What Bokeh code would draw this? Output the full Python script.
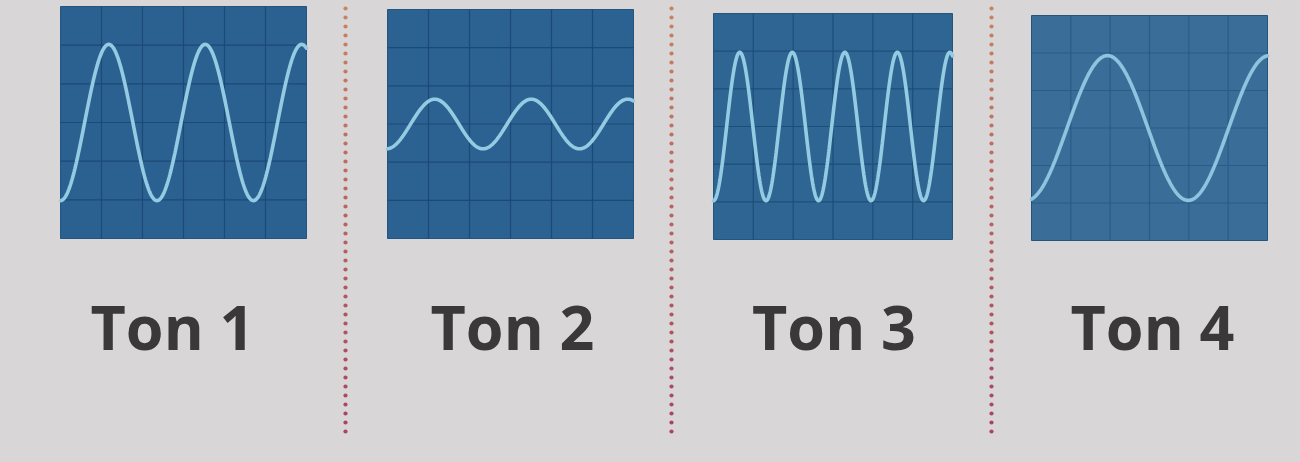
import numpy as np
from bokeh.plotting import figure
from bokeh.layouts import row
from bokeh.models import Range1d
from bokeh.core.properties import value
from bokeh.embed import file_html
from bokeh.resources import INLINE

# ---- data ----
tones = ["Ton 1", "Ton 2", "Ton 3", "Ton 4"]
cycles_per_screen = [2.55, 2.55, 4.55, 1.46]     # periods shown across the 6 divisions
start_phase = [0.0, 0.01, 0.0, 0.03]             # cycles past a trough at the left edge
amplitude_div = [2.02, 0.65, 1.97, 1.93]         # peak amplitude in grid divisions
x_divisions = [1, 2, 3, 4, 5]
y_divisions = [-2, -1, 0, 1, 2]

# ---- styles / layout (pixels) ----
BG = "#d8d6d6"
SCREEN = ["#2b6190", "#2c6291", "#2e6593", "#3a6e99"]
GRID = ["#1b4874", "#1b4874", "#1d4b76", "#285a86"]
WAVE = ["#95cbe2", "#95cbe2", "#95cbe2", "#90c4de"]
TEXT = "#3a3838"
H = 462

slot_w = [341, 318, 312, 305]
b_left = [60, 38, 38, 36]
b_right = [35, 34, 35, 33]
s_top = [6, 9, 13, 15]
s_bottom = [238, 238, 239, 240]
text_anchor = 326
text_shift = [-11, 2, 1, 3]


def bare(p):
    p.background_fill_color = BG
    p.border_fill_color = BG
    p.outline_line_color = None
    p.grid.visible = False
    p.axis.visible = False


figs = []
for i, name in enumerate(tones):
    fw = slot_w[i] - b_left[i] - b_right[i]
    dx = fw / 6.0
    dy = (s_bottom[i] - s_top[i]) / 6.0
    xr = Range1d(-b_left[i] / dx, 6 + b_right[i] / dx)
    yr = Range1d(-3 - (H - s_bottom[i]) / dy, 3 + s_top[i] / dy)
    p = figure(width=slot_w[i], height=H, output_backend="svg", toolbar_location=None,
               x_axis_location=None, y_axis_location=None, x_range=xr, y_range=yr,
               min_border=0, min_border_left=0, min_border_right=0,
               min_border_top=0, min_border_bottom=0)
    bare(p)
    # screen
    p.quad(left=[0], right=[6], bottom=[-3], top=[3], fill_color=SCREEN[i],
           line_color="#24557f", line_width=1)
    # graticule
    p.segment(x0=x_divisions, x1=x_divisions, y0=[-3] * 5, y1=[3] * 5,
              line_color=GRID[i], line_width=1.2, line_alpha=0.9)
    p.segment(x0=[0] * 5, x1=[6] * 5, y0=y_divisions, y1=y_divisions,
              line_color=GRID[i], line_width=1.2, line_alpha=0.9)
    # trace
    t = np.linspace(0, 6, 600)
    y = -amplitude_div[i] * np.cos(2 * np.pi * (cycles_per_screen[i] * t / 6 + start_phase[i]))
    p.line(t, y, line_color=WAVE[i], line_width=3.6, line_cap="round")
    # label
    ty = 3 - (text_anchor - s_top[i]) / dy
    p.text(x=[3 + text_shift[i] / dx], y=[ty], text=[name], text_align="center",
           text_baseline="alphabetic", text_font=value("Open Sans"),
           text_font_style="bold", text_font_size="61px", text_color=TEXT)
    figs.append(p)


def separator():
    s = figure(width=8, height=H, output_backend="svg", toolbar_location=None,
               x_axis_location=None, y_axis_location=None,
               x_range=Range1d(-1, 1), y_range=Range1d(H, 0),
               min_border=0, min_border_left=0, min_border_right=0,
               min_border_top=0, min_border_bottom=0)
    bare(s)
    ys = np.arange(8, 437, 9)
    top = np.array([200, 132, 96])
    bot = np.array([168, 68, 100])
    f = (ys - ys.min()) / (ys.max() - ys.min())
    cols = ["#%02x%02x%02x" % tuple((top * (1 - k) + bot * k).astype(int)) for k in f]
    s.scatter(np.zeros_like(ys), ys, size=4.2, color=cols, line_color=None)
    return s


layout = row(figs[0], separator(), figs[1], separator(), figs[2], separator(), figs[3],
             spacing=0, styles={"background-color": BG})
open("out.html", "w").write(file_html(layout, INLINE))
